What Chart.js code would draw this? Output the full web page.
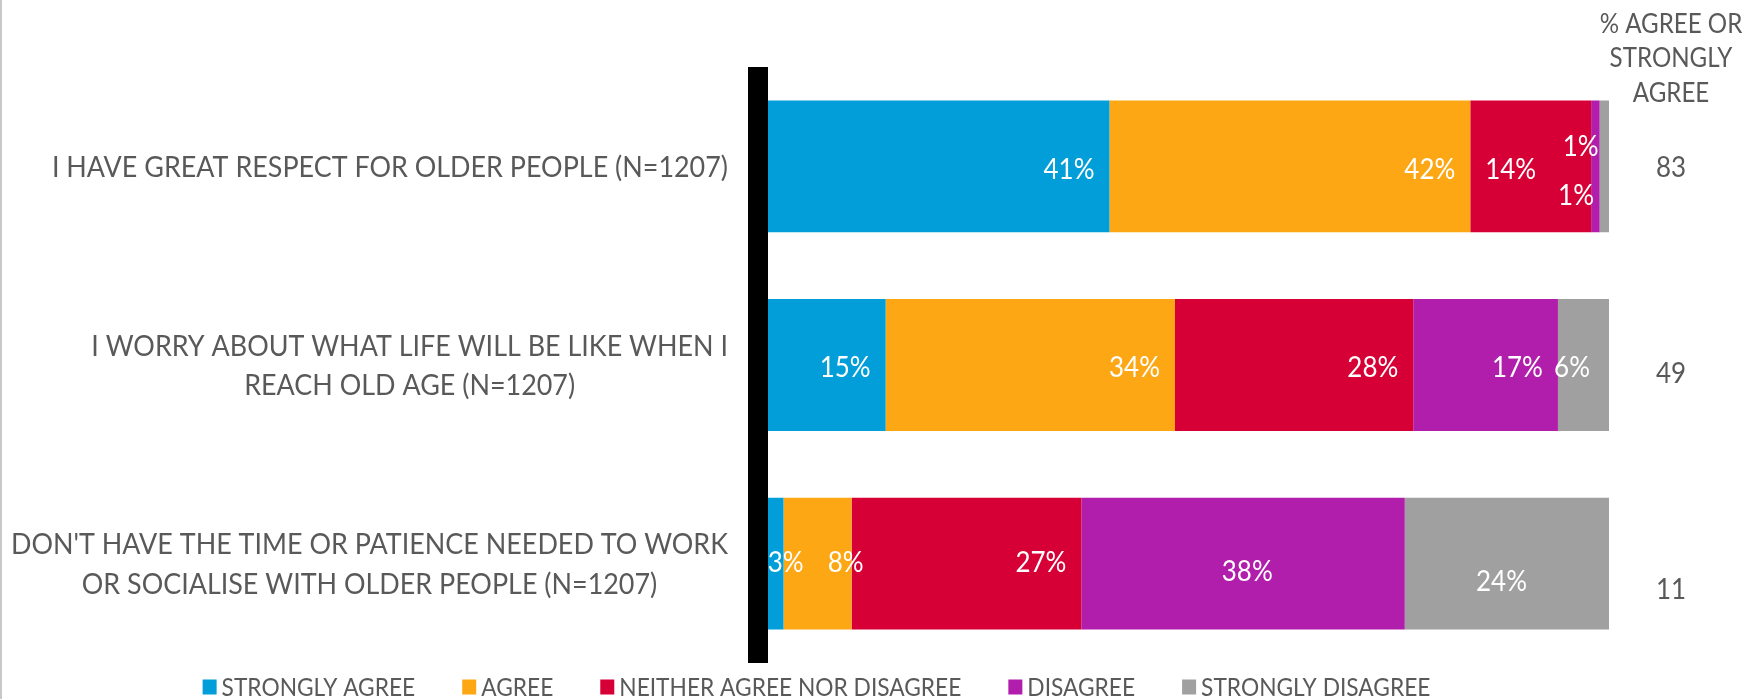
<!DOCTYPE html>
<html><head><meta charset="utf-8">
<script src="https://cdn.jsdelivr.net/npm/chart.js@4.4.0/dist/chart.umd.min.js"></script>
<style>html,body{margin:0;padding:0;background:#fff;overflow:hidden}#wrap{width:1761px;height:699px;position:relative}</style>
</head><body><div id="wrap"><canvas id="c" width="1761" height="699"></canvas></div>
<script>
// ---------- data ----------
const categories = [
  ["I HAVE GREAT RESPECT FOR OLDER PEOPLE (N=1207)"],
  ["I WORRY ABOUT WHAT LIFE WILL BE LIKE WHEN I", "REACH OLD AGE (N=1207)"],
  ["DON'T HAVE THE TIME OR PATIENCE NEEDED TO WORK", "OR SOCIALISE WITH OLDER PEOPLE (N=1207)"]
];
const seriesNames = ["STRONGLY AGREE", "AGREE", "NEITHER AGREE NOR DISAGREE", "DISAGREE", "STRONGLY DISAGREE"];
const stronglyAgree    = [41.3, 15.0, 3.0];
const agree            = [42.4, 34.0, 8.0];
const neither          = [14.2, 28.0, 27.0];
const disagree         = [1.0, 17.0, 38.0];
const stronglyDisagree = [1.1, 6.0, 24.0];
const agreeTotal = [83, 49, 11];
const totalHeader = ["% AGREE OR", "STRONGLY", "AGREE"];

// ---------- styles ----------
const colors = ["#029ED9", "#FCA713", "#D70036", "#B11EAC", "#A0A0A0"];
const textGray = "#595959";
const FONT = 'Lato, "Open Sans", sans-serif';
// label nudges (px) relative to inside-end position, per series then category
const nudgeX = [[0,0,35],[0,0,27],[-40,0,0],[14,0,-117],[0,-4,-67]];
const nudgeY = [[2,1,-2],[2,1,-2],[2,1,-2],[-21,1,7],[28,1,17]];
const totalShiftY = [0, 7, 25];

let K = 1;
(function(){
  const c = document.createElement('canvas').getContext('2d');
  c.font = '29px ' + FONT;
  K = 717 / c.measureText(categories[2][0]).width;
})();

function txt(ctx, s, x, y, align, size, color) {
  ctx.font = size + 'px ' + FONT;
  const w = ctx.measureText(s).width * K;
  const capH = ctx.measureText('H').actualBoundingBoxAscent;
  const left = align === 'right' ? x - w : align === 'center' ? x - w / 2 : x;
  ctx.save();
  ctx.fillStyle = color; ctx.textAlign = 'left'; ctx.textBaseline = 'alphabetic';
  ctx.translate(left, y + capH / 2); ctx.scale(K, 1); ctx.fillText(s, 0, 0);
  ctx.restore();
  return w;
}
function tw(ctx, s, size) { ctx.font = size + 'px ' + FONT; return ctx.measureText(s).width * K; }

const seriesValues = [stronglyAgree, agree, neither, disagree, stronglyDisagree];
const datasets = seriesValues.map((v, i) => ({
  label: seriesNames[i], data: v, backgroundColor: colors[i], borderWidth: 0,
  categoryPercentage: 1, barPercentage: 0.664
}));

const overlay = {
  id: 'overlay',
  afterDatasetsDraw(chart) {
    const ctx = chart.ctx, ca = chart.chartArea;
    const xs = chart.scales.x, ys = chart.scales.y;
    // data labels
    chart.data.datasets.forEach((ds, di) => {
      const meta = chart.getDatasetMeta(di);
      meta.data.forEach((bar, i) => {
        const label = Math.round(ds.data[i]) + '%';
        txt(ctx, label, bar.x - 15 + nudgeX[di][i], bar.y + nudgeY[di][i], 'right', 28, '#ffffff');
      });
    });
    // vertical axis line
    const x0 = xs.getPixelForValue(0);
    ctx.save(); ctx.fillStyle = '#000'; ctx.fillRect(x0 - 10, ca.top, 20, ca.bottom - ca.top); ctx.restore();
    // left chart frame line
    ctx.save(); ctx.fillStyle = '#c8c8c8'; ctx.fillRect(0, 0, 2, chart.height); ctx.restore();
    // category labels
    categories.forEach((lines, i) => {
      const yc = ys.getPixelForValue(i);
      const widths = lines.map(l => tw(ctx, l, 29));
      const maxW = Math.max(...widths);
      const right = x0 - 30;
      lines.forEach((l, j) => {
        txt(ctx, l, right - maxW / 2, yc + (j - (lines.length - 1) / 2) * 39.5, 'center', 29, textGray);
      });
    });
    // right header + totals
    const xc = ca.right + 62;
    totalHeader.forEach((l, j) => txt(ctx, l, xc, 22.5 + j * 34.5, 'center', 26, textGray));
    agreeTotal.forEach((v, i) => txt(ctx, String(v), xc, ys.getPixelForValue(i) + totalShiftY[i], 'center', 28, textGray));
    // legend
    const fs = 24.5, box = 14, gapT = 5, gapI = 47;
    const items = chart.data.datasets.map(d => ({t: d.label, c: d.backgroundColor, w: tw(ctx, d.label, fs)}));
    const total = items.reduce((s, it) => s + box + gapT + it.w, 0) + gapI * (items.length - 1);
    let lx = 816.5 - total / 2;
    const ly = 687;
    items.forEach(it => {
      ctx.fillStyle = it.c; ctx.fillRect(lx, ly - 7.5, box, 15);
      txt(ctx, it.t, lx + box + gapT, ly, 'left', fs, textGray);
      lx += box + gapT + it.w + gapI;
    });
  }
};

new Chart(document.getElementById('c'), {
  type: 'bar',
  data: { labels: categories, datasets },
  options: {
    indexAxis: 'y', responsive: false, animation: false, devicePixelRatio: 1,
    layout: { padding: { left: 758, right: 152, top: 67, bottom: 36 } },
    scales: {
      x: { stacked: true, min: 0, max: 100, display: false },
      y: { stacked: true, display: false }
    },
    plugins: { legend: { display: false }, tooltip: { enabled: false } }
  },
  plugins: [overlay]
});
</script></body></html>
